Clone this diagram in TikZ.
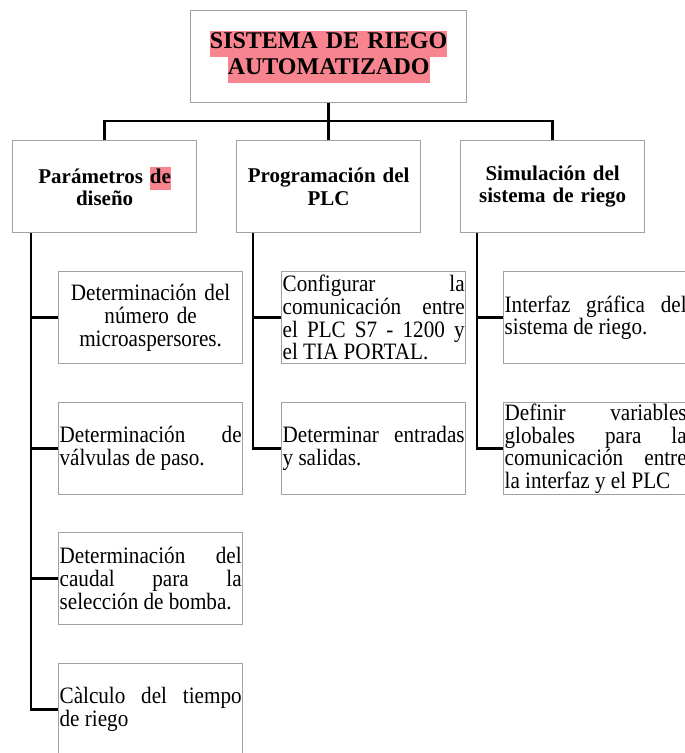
\documentclass[tikz,border=0pt]{standalone}
\usepackage{fontspec}
\setmainfont{Liberation Serif}
\newfontfamily\tareafont[FakeStretch=0.9]{Liberation Serif}
\usetikzlibrary{positioning}
\definecolor{resalte}{HTML}{F7848E}
\definecolor{bordegris}{HTML}{A0A0A0}
\tikzset{caja/.style={draw=bordegris, line width=1.3pt, anchor=north west, minimum width=184pt, minimum height=92pt, inner xsep=1pt, inner ysep=0.5pt, text width=182pt}}
\tikzset{encabezado/.style={caja, align=center, font=\bfseries\fontsize{21}{22.5}\selectfont}}
\tikzset{tarea/.style={caja, align=justify, font=\tareafont\fontsize{23.5}{22.7}\selectfont}}
\tikzset{rama/.style={line width=2.6pt}}
\newcommand{\marcar}[1]{{\setlength{\fboxsep}{0pt}\colorbox{resalte}{\strut #1}}}

\begin{document}
\begin{tikzpicture}[x=1pt, y=-1pt]
    \clip (0,0) rectangle (685,753);
    % titulo
    \node[caja, minimum width=276pt, text width=274pt, align=center, font=\bfseries\fontsize{24}{26}\selectfont] (titulo) at (190,10) {\marcar{SISTEMA DE RIEGO}\\\marcar{AUTOMATIZADO}};
    % nivel 2
    \node[encabezado] (p1) at (12,140) {Parámetros \marcar{de}\\diseño};
    \node[encabezado] (p2) at (236,140) {Programación del\\PLC};
    \node[encabezado] (p3) at (460,140) {Simulación del\\sistema de riego};
    % nivel 3
    \node[tarea, align=center] (d1) at (58,271) {Determinación del\\número de\\microaspersores.};
    \node[tarea] (d2) at (58,402) {Determinación de\linebreak válvulas de paso.};
    \node[tarea] (d3) at (58,532) {Determinación del\linebreak caudal para la\linebreak selección de bomba.};
    \node[tarea] (d4) at (58,663) {Càlculo del tiempo\linebreak de riego};
    \node[tarea] (c1) at (281,271) {Configurar la\linebreak comunicación entre\linebreak el PLC S7 - 1200 y\linebreak el TIA PORTAL.};
    \node[tarea] (c2) at (281,402) {Determinar entradas\linebreak y salidas.};
    \node[tarea] (s1) at (503,271) {Interfaz gráfica del\linebreak sistema de riego.};
    \node[tarea] (s2) at (503,402) {Definir variables\linebreak globales para la\linebreak comunicación entre\linebreak la interfaz y el PLC};
    % conectores
    \draw[rama] (titulo.south) -- (p2.north);
    \draw[rama] (p1.north) -- ++(0,-19) -| (p3.north);
    \coordinate (t1) at ([xshift=19pt]p1.south west);
    \coordinate (t2) at ([xshift=17pt]p2.south west);
    \coordinate (t3) at ([xshift=17pt]p3.south west);
    \foreach \n in {d1,d2,d3,d4} {
        \draw[rama] (t1) |- (\n.west);
    }
    \foreach \n in {c1,c2} {
        \draw[rama] (t2) |- (\n.west);
    }
    \foreach \n in {s1,s2} {
        \draw[rama] (t3) |- (\n.west);
    }
\end{tikzpicture}
\end{document}
